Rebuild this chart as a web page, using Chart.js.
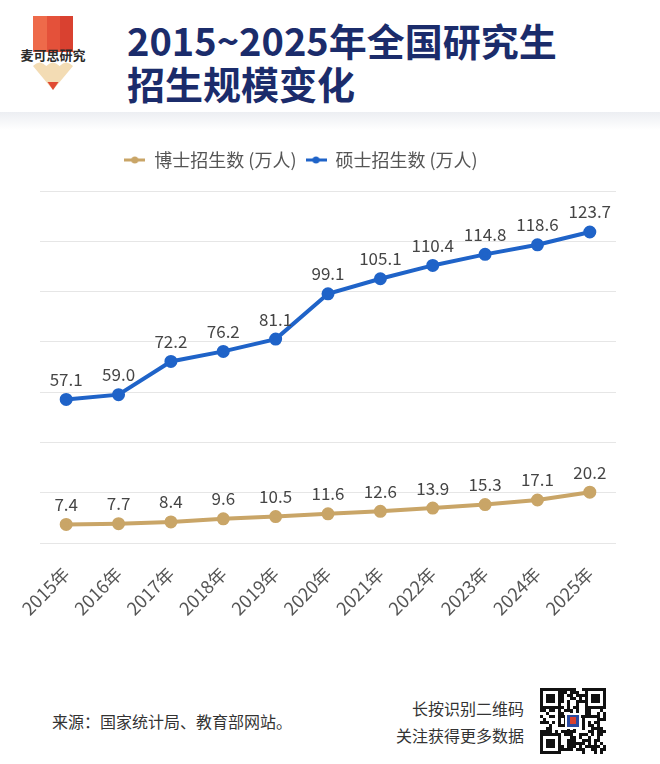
<!DOCTYPE html>
<html>
<head>
<meta charset="utf-8">
<script src="https://cdn.jsdelivr.net/npm/chart.js@4"></script>
<style>
  html, body { margin: 0; padding: 0; background: #fff; }
  body { width: 660px; height: 764px; position: relative; overflow: hidden; font-family: "Noto Sans CJK SC", "Noto Sans", sans-serif; }
  .title { position: absolute; left: 127px; top: 18px; color: #1b2c6b; font-weight: bold; font-size: 38px; line-height: 43px; }
  .band { position: absolute; left: 0; top: 112px; width: 660px; height: 18px; background: linear-gradient(#eceef2, #fff); }
  .logo { position: absolute; left: 18px; top: 14px; }
  .chartbox { position: absolute; left: 0; top: 135px; width: 660px; height: 500px; }
  .source { position: absolute; left: 52px; top: 709px; font-size: 16px; color: #333; }
  .qrtext { position: absolute; right: 136px; top: 695px; font-size: 16px; color: #333; text-align: right; line-height: 27px; }
  #qr { position: absolute; left: 540px; top: 688px; }
</style>
</head>
<body>
<svg class="logo" width="72" height="80" viewBox="0 0 72 80">
  <rect x="15" y="2" width="14" height="36" fill="#ee6a4a"/>
  <rect x="29" y="2" width="13" height="36" fill="#e4513a"/>
  <rect x="42" y="2" width="13" height="36" fill="#d94130"/>
  <path d="M15 52 q6.5 -7 13.3 0 q6.5 -7 13.3 0 q6.5 -7 13.4 0 L35 76 Z" fill="#f3dcb4"/>
  <path d="M29.5 68 L40.5 68 L35 76 Z" fill="#e04a32"/>
  <text x="35" y="46" text-anchor="middle" font-size="13" font-weight="bold" fill="#2a2a2a" font-family="Noto Sans CJK SC">麦可思研究</text>
</svg>
<div class="title">2015~2025年全国研究生<br>招生规模变化</div>
<div class="band"></div>
<div class="chartbox"><canvas id="myChart"></canvas></div>
<div class="source">来源：国家统计局、教育部网站。</div>
<div class="qrtext">长按识别二维码<br>关注获得更多数据</div>
<canvas id="qr" width="66" height="66"></canvas>
<script>
let years = ["2015年", "2016年", "2017年", "2018年", "2019年", "2020年", "2021年", "2022年", "2023年", "2024年", "2025年"];
let doctorValues = [7.4, 7.7, 8.4, 9.6, 10.5, 11.6, 12.6, 13.9, 15.3, 17.1, 20.2];
let masterValues = [57.1, 59.0, 72.2, 76.2, 81.1, 99.1, 105.1, 110.4, 114.8, 118.6, 123.7];
let seriesNames = ["博士招生数 (万人)", "硕士招生数 (万人)"];

let goldColor = "#c9a567";
let blueColor = "#1f63c8";
let fontFam = '"Noto Sans CJK SC", "Noto Sans", sans-serif';

function legendMark(color) {
  let c = document.createElement("canvas");
  c.width = 21;
  c.height = 10;
  let ctx = c.getContext("2d");
  ctx.strokeStyle = color;
  ctx.lineWidth = 3;
  ctx.beginPath();
  ctx.moveTo(0, 5);
  ctx.lineTo(21, 5);
  ctx.stroke();
  ctx.fillStyle = color;
  ctx.beginPath();
  ctx.arc(10.5, 5, 3.5, 0, Math.PI * 2);
  ctx.fill();
  return c;
}
let legendMarks = [legendMark(goldColor), legendMark(blueColor)];

// value labels above each point
let valueLabels = {
  id: "valueLabels",
  afterDatasetsDraw(chart) {
    let ctx = chart.ctx;
    ctx.save();
    ctx.font = "17px " + fontFam;
    ctx.fillStyle = "#454545";
    ctx.textAlign = "center";
    ctx.textBaseline = "middle";
    chart.data.datasets.forEach((ds, i) => {
      chart.getDatasetMeta(i).data.forEach((pt, j) => {
        ctx.fillText(ds.data[j].toFixed(1), pt.x, pt.y - 20);
      });
    });
    ctx.restore();
  }
};

// fixed legend height, legend a bit left of centre like the reference
let legendTweak = {
  id: "legendTweak",
  beforeInit(chart) {
    let fit = chart.legend.fit;
    chart.legend.fit = function () {
      fit.call(this);
      this.height = 49;
    };
  },
  afterLayout(chart) {
    chart.legend.left -= 27;
    chart.legend.right -= 27;
  }
};

new Chart("myChart", {
  type: "line",
  data: {
    labels: years,
    datasets: [{
      label: seriesNames[0],
      data: doctorValues,
      borderColor: goldColor,
      backgroundColor: goldColor,
      borderWidth: 4,
      pointRadius: 4.5,
      tension: 0
    }, {
      label: seriesNames[1],
      data: masterValues,
      borderColor: blueColor,
      backgroundColor: blueColor,
      borderWidth: 4,
      pointRadius: 4.5,
      tension: 0
    }]
  },
  options: {
    responsive: true,
    maintainAspectRatio: false,
    animation: false,
    layout: { padding: { left: 40, right: 44, top: 7, bottom: 0 } },
    plugins: {
      legend: {
        display: true,
        labels: {
          usePointStyle: true,
          pointStyleWidth: 21,
          color: "#555",
          font: { size: 18, family: fontFam },
          padding: 9,
          generateLabels(chart) {
            return chart.data.datasets.map((ds, i) => ({
              text: ds.label,
              fillStyle: ds.borderColor,
              strokeStyle: ds.borderColor,
              fontColor: "#555",
              lineWidth: 0,
              pointStyle: legendMarks[i],
              datasetIndex: i,
              hidden: false
            }));
          }
        }
      },
      tooltip: { enabled: false }
    },
    scales: {
      x: {
        offset: true,
        grid: { display: false },
        border: { display: false },
        afterFit(axis) { axis.height = 92; },
        ticks: {
          color: "#555",
          font: { size: 18, family: fontFam },
          minRotation: 45,
          maxRotation: 45,
          padding: 12
        }
      },
      y: {
        min: 0,
        max: 140,
        ticks: { stepSize: 20, display: false },
        border: { display: false },
        grid: { color: "#e6e6e6", drawTicks: false }
      }
    }
  },
  plugins: [valueLabels, legendTweak]
});

// decorative QR-like block
(function () {
  let c = document.getElementById("qr");
  let ctx = c.getContext("2d");
  ctx.fillStyle = "#fff";
  ctx.fillRect(0, 0, 66, 66);
  ctx.fillStyle = "#111";
  let n = 22, s = 3;
  let seed = 7;
  for (let r = 0; r < n; r++) {
    for (let q = 0; q < n; q++) {
      seed = (seed * 1103515245 + 12345) & 0x7fffffff;
      if ((seed >> 16) & 1) ctx.fillRect(q * s, r * s, s, s);
    }
  }
  function finder(x, y) {
    ctx.fillStyle = "#111"; ctx.fillRect(x, y, 21, 21);
    ctx.fillStyle = "#fff"; ctx.fillRect(x + 3, y + 3, 15, 15);
    ctx.fillStyle = "#111"; ctx.fillRect(x + 6, y + 6, 9, 9);
  }
  finder(0, 0); finder(45, 0); finder(0, 45);
  ctx.fillStyle = "#fff"; ctx.fillRect(25, 25, 16, 16);
  ctx.fillStyle = "#2a4aa0"; ctx.fillRect(27, 27, 12, 12);
  ctx.fillStyle = "#d94130"; ctx.fillRect(30, 29, 6, 7);
})();
</script>
</body>
</html>
